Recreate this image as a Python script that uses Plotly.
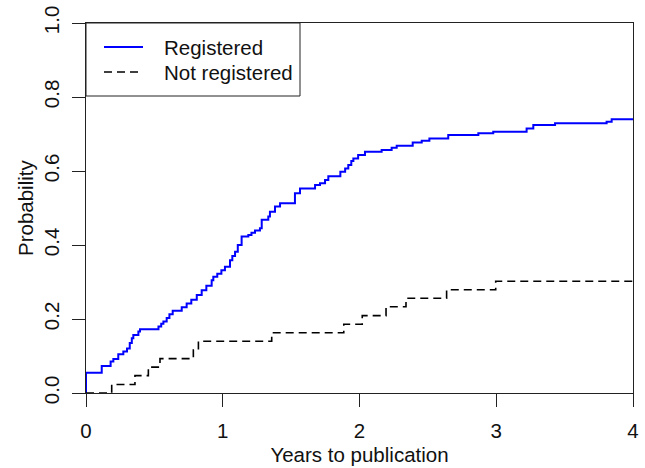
import plotly.graph_objects as go

# Registered: step curve (years, cumulative probability)
reg_years = [0, 0, 0.115, 0.18, 0.20, 0.236, 0.273, 0.30, 0.32, 0.335, 0.346, 0.383, 0.395,
             0.53, 0.55, 0.566, 0.59, 0.61, 0.634, 0.70, 0.736, 0.77, 0.81, 0.846, 0.88,
             0.919, 0.931, 0.96, 0.99, 1.016, 1.053, 1.07, 1.09, 1.11, 1.138, 1.187, 1.21,
             1.236, 1.272, 1.285, 1.333, 1.345, 1.382, 1.419, 1.528, 1.565, 1.675, 1.711,
             1.748, 1.772, 1.86, 1.895, 1.918, 1.94, 1.955, 1.99, 2.04, 2.162, 2.235, 2.272,
             2.389, 2.455, 2.511, 2.649, 2.869, 2.978, 3.222, 3.271, 3.43, 3.807, 3.844, 4.0]
reg_prob = [0, 0.055, 0.073, 0.085, 0.092, 0.105, 0.112, 0.12, 0.135, 0.148, 0.157, 0.166, 0.172,
            0.18, 0.187, 0.193, 0.203, 0.213, 0.222, 0.232, 0.242, 0.252, 0.265, 0.278, 0.29,
            0.305, 0.314, 0.322, 0.332, 0.341, 0.359, 0.37, 0.382, 0.40, 0.423, 0.427, 0.433,
            0.439, 0.445, 0.468, 0.477, 0.49, 0.504, 0.513, 0.54, 0.553, 0.562, 0.567,
            0.576, 0.586, 0.598, 0.607, 0.616, 0.627, 0.634, 0.643, 0.652, 0.657, 0.663, 0.668,
            0.677, 0.682, 0.688, 0.697, 0.702, 0.706, 0.715, 0.724, 0.729, 0.733, 0.74, 0.74]

# Not registered: step curve
notreg_years = [0, 0.188, 0.358, 0.456, 0.541, 0.785, 0.822, 1.358, 1.885, 2.02, 2.194, 2.34,
                2.637, 2.996, 4.0]
notreg_prob = [0, 0.023, 0.047, 0.070, 0.093, 0.116, 0.140, 0.163, 0.186, 0.209, 0.233, 0.256,
               0.279, 0.302, 0.302]

series_names = ["Registered", "Not registered"]
x_ticks = [0, 1, 2, 3, 4]
y_ticks = [0.0, 0.2, 0.4, 0.6, 0.8, 1.0]
y_tick_labels = ["0.0", "0.2", "0.4", "0.6", "0.8", "1.0"]
x_title = "Years to publication"
y_title = "Probability"

FONT = "Liberation Sans, Arial, sans-serif"
FS = 20.5
BLUE_LINE = dict(color="#0000FF", width=2)
DASH_LINE = dict(color="#000000", width=1.6, dash="8px,5px")

fig = go.Figure()
fig.add_trace(go.Scatter(x=reg_years, y=reg_prob, mode="lines", line_shape="hv",
                         name=series_names[0], line=BLUE_LINE))
fig.add_trace(go.Scatter(x=notreg_years, y=notreg_prob, mode="lines", line_shape="hv",
                         name=series_names[1], line=DASH_LINE))

axis_common = dict(showline=True, mirror=True, linecolor="#222", linewidth=1,
                   ticks="outside", ticklen=13, tickcolor="#222", tickwidth=1,
                   showgrid=False, zeroline=False, automargin=False,
                   tickfont=dict(family=FONT, size=FS, color="#111"))

fig.update_xaxes(range=[0, 4], tickvals=x_ticks, ticklabelstandoff=6,
                 title=dict(text=x_title, standoff=7,
                            font=dict(family=FONT, size=FS, color="#111")),
                 **axis_common)
fig.update_yaxes(range=[0, 1], tickvals=y_ticks, ticktext=y_tick_labels, tickangle=-90,
                 ticklabelstandoff=5, **axis_common)

PW, PH = 547.0, 370.0
# y-axis title placed like R's mtext on line 3
fig.add_annotation(xref="paper", yref="paper", x=(25 - 86) / PW, y=0.5, text=y_title,
                   textangle=-90, showarrow=False, xanchor="center", yanchor="middle",
                   font=dict(family=FONT, size=FS, color="#111"))

# Legend box drawn in the top-left corner of the plot area (like R's legend("topleft"))
lx0, lx1 = 0.0, 214 / PW
ly0, ly1 = 1 - 73 / PH, 1.0
fig.add_shape(type="rect", xref="paper", yref="paper", x0=lx0, x1=lx1, y0=ly0, y1=ly1,
              line=dict(color="#222", width=1), fillcolor="white", layer="above")
rows_y = [1 - 24 / PH, 1 - 49 / PH]
for name, yy, ln in zip(series_names, rows_y, [BLUE_LINE, DASH_LINE]):
    fig.add_shape(type="line", xref="paper", yref="paper", x0=18 / PW, x1=57 / PW,
                  y0=yy, y1=yy, line=ln, layer="above")
    fig.add_annotation(xref="paper", yref="paper", x=76 / PW, y=yy, text=name,
                       showarrow=False, xanchor="left", yanchor="middle",
                       font=dict(family=FONT, size=FS, color="#111"))

fig.update_layout(
    width=645, height=468,
    margin=dict(l=86, r=12, t=23, b=75, autoexpand=False),
    paper_bgcolor="white", plot_bgcolor="white",
    showlegend=False,
)

fig.write_html("out.html", config={"displayModeBar": False},
               post_script="document.body.style.margin='0';document.body.style.overflow='hidden';")
